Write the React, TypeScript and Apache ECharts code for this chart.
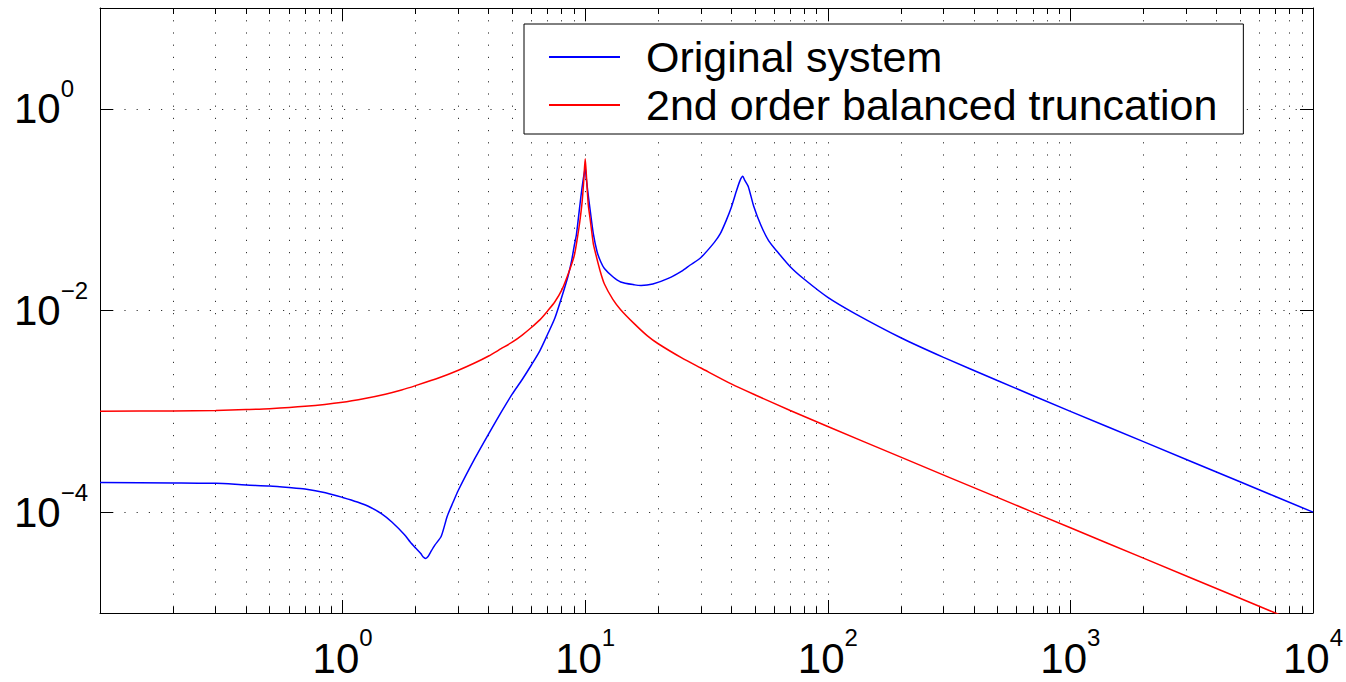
import React, { useEffect, useRef } from 'react';
import * as echarts from 'echarts';

// Frequency (rad/s) and magnitude of the original system (blue)
const blueFreq = [
  0.1, 0.2, 0.3, 0.4, 0.5, 0.6, 0.7, 0.85, 1, 1.15, 1.3, 1.45, 1.6, 1.8, 1.9, 2.0, 2.1, 2.15, 2.2, 2.25, 2.3,
  2.4, 2.55, 2.7, 2.85, 3, 3.5, 4, 4.5, 5, 5.5, 6, 6.5, 7, 7.5, 8, 8.5, 8.8, 9, 9.2, 9.4, 9.6, 9.8, 9.9, 10,
  10.1, 10.25, 10.5, 10.8, 11.2, 11.6, 12, 13, 14, 16, 17, 19, 22, 25, 27, 30, 34, 36, 38, 40, 42, 43.5, 44.6,
  45.5, 47, 49.5, 53, 57, 62, 70, 80, 100, 130, 200, 300, 500, 1000, 2000, 5000, 10000,
];
const blueMag = [
  1.97e-4, 1.95e-4, 1.93e-4, 1.86e-4, 1.82e-4, 1.76e-4, 1.7e-4, 1.56e-4, 1.4e-4, 1.26e-4, 1.12e-4, 9.6e-5,
  7.94e-5, 5.97e-5, 5.06e-5, 4.41e-5, 3.89e-5, 3.59e-5, 3.48e-5, 3.63e-5, 3.98e-5, 4.71e-5, 5.78e-5, 9.12e-5,
  1.245e-4, 1.65e-4, 3.37e-4, 5.98e-4, 9.75e-4, 1.48e-3, 2.07e-3, 2.88e-3, 3.98e-3, 5.81e-3, 8.41e-3, 0.01355,
  0.022, 0.0316, 0.0431, 0.0566, 0.0873, 0.135, 0.195, 0.226, 0.257, 0.206, 0.151, 0.0955, 0.0578, 0.038,
  0.0303, 0.0261, 0.0216, 0.0192, 0.01795, 0.0177, 0.0183, 0.0208, 0.0246, 0.0281, 0.0336, 0.0471, 0.0574,
  0.0766, 0.105, 0.153, 0.195, 0.214, 0.195, 0.17, 0.108, 0.07, 0.0494, 0.0382, 0.0272, 0.0204, 0.0135,
  0.00927, 0.00537, 0.00343, 0.00202, 0.001, 5.01e-4, 2.0e-4, 1.0e-4,
];

// Frequency (rad/s) and magnitude of the 2nd order balanced truncation (red)
const redFreq = [
  0.1, 0.2, 0.3, 0.4, 0.5, 0.7, 1, 1.25, 1.5, 1.75, 2, 2.5, 3, 3.5, 4, 4.5, 5, 5.5, 6, 6.5, 7, 7.5, 8, 8.5, 9,
  9.3, 9.5, 9.7, 9.85, 10, 10.15, 10.3, 10.5, 10.8, 11, 11.5, 12, 13, 14, 16, 18, 20, 25, 30, 40, 50, 70, 100,
  200, 500, 1000, 2000, 5000, 10000,
];
const redMag = [
  1.0e-3, 1.01e-3, 1.02e-3, 1.04e-3, 1.06e-3, 1.12e-3, 1.23e-3, 1.35e-3, 1.48e-3, 1.63e-3, 1.8e-3, 2.15e-3,
  2.556e-3, 3.015e-3, 3.54e-3, 4.18e-3, 4.85e-3, 5.71e-3, 6.78e-3, 8.07e-3, 0.0099, 0.0122, 0.0159, 0.0229,
  0.0345, 0.0537, 0.0759, 0.116, 0.184, 0.32, 0.188, 0.111, 0.078, 0.046, 0.038, 0.0251, 0.0183, 0.0129,
  0.0102, 7.33e-3, 5.64e-3, 4.68e-3, 3.39e-3, 2.69e-3, 1.87e-3, 1.46e-3, 1.02e-3, 7.07e-4, 3.51e-4, 1.4e-4,
  7.0e-5, 3.5e-5, 1.4e-5, 7.0e-6,
];

const seriesNames = ['Original system', '2nd order balanced truncation'];
const seriesColors = ['#0000ff', '#ff0000'];

// Axis ticks (exponents of ten)
const xDecades = [-1, 0, 1, 2, 3];
const xMinorMultipliers = [2, 3, 4, 5, 6, 7, 8, 9];
const yTickExponents = [-4, -2, 0];

const FONT = "'Liberation Sans', Arial, Helvetica, sans-serif";

function expLabel(e: number): string {
  const s = e < 0 ? '\u2212' + String(-e) : String(e);
  return '{b|10}{s|' + s + '}';
}

const richY = {
  b: { fontSize: 42, lineHeight: 64, fontFamily: FONT, color: '#000' },
  s: { fontSize: 24, verticalAlign: 'top', fontFamily: FONT, color: '#000' },
};
const richX = {
  b: { fontSize: 42, height: 30, lineHeight: 44, verticalAlign: 'bottom', fontFamily: FONT, color: '#000' },
  s: { fontSize: 24, height: 17, verticalAlign: 'top', fontFamily: FONT, color: '#000' },
};

const dotted = { color: '#333', width: 1, type: [1.2, 11] as any };
const black = { color: '#000', width: 1 };

export default function App() {
  const ref = useRef<HTMLDivElement>(null);

  useEffect(() => {
    if (!ref.current) return;
    const chart = echarts.init(ref.current, undefined, { renderer: 'svg' });

    const minorX: number[] = [];
    xDecades.forEach((d) => xMinorMultipliers.forEach((m) => minorX.push(Math.log10(m) + d)));

    const logX = { type: 'log', logBase: 10, min: 0.1, max: 10000 };
    const logY = { type: 'log', logBase: 10, min: 1e-5, max: 10 };
    const linX = { type: 'value', min: -1, max: 4 };
    const linY = { type: 'value', min: -5, max: 1, splitNumber: 3 };

    const option: any = {
      animation: false,
      backgroundColor: '#fff',
      grid: { left: 100, right: 33, top: 8, bottom: 69, containLabel: false, outerBoundsMode: 'none' },
      legend: {
        data: seriesNames,
        orient: 'vertical',
        left: 524,
        top: 24,
        padding: [9, 26, 5, 25],
        itemGap: 0,
        itemWidth: 71,
        itemHeight: 2,
        icon: 'rect',
        borderColor: '#000',
        borderWidth: 1,
        borderRadius: 0,
        backgroundColor: '#fff',
        selectedMode: false,
        textStyle: { fontSize: 43, lineHeight: 48, fontFamily: FONT, color: '#000', padding: [0, 0, 0, 21] },
        z: 10,
      },
      xAxis: [
        {
          ...logX,
          position: 'bottom',
          axisLine: { show: true, onZero: false, lineStyle: black },
          axisTick: { show: true, inside: true, length: 13, lineStyle: black },
          axisLabel: {
            show: true,
            margin: 16,
            showMinLabel: false,
            formatter: (v: number) => expLabel(Math.round(Math.log10(v))),
            rich: richX,
          },
          splitLine: { show: true, lineStyle: dotted },
          minorTick: { show: false },
          minorSplitLine: { show: false },
        },
        {
          ...logX,
          position: 'top',
          axisLine: { show: true, onZero: false, lineStyle: black },
          axisTick: { show: true, inside: true, length: 13, lineStyle: black },
          axisLabel: { show: false },
          splitLine: { show: false },
        },
        {
          ...linX,
          position: 'bottom',
          axisLine: { show: false, onZero: false },
          axisTick: { show: true, inside: true, length: 6, lineStyle: black, customValues: minorX },
          axisLabel: { show: false },
          splitLine: { show: true, lineStyle: dotted },
        },
        {
          ...linX,
          position: 'top',
          axisLine: { show: false, onZero: false },
          axisTick: { show: true, inside: true, length: 6, lineStyle: black, customValues: minorX },
          axisLabel: { show: false },
          splitLine: { show: false },
        },
      ],
      yAxis: [
        {
          ...logY,
          position: 'left',
          axisLine: { show: true, onZero: false, lineStyle: black },
          axisTick: { show: false },
          axisLabel: { show: false },
          splitLine: { show: false },
        },
        {
          ...logY,
          position: 'right',
          axisLine: { show: true, onZero: false, lineStyle: black },
          axisTick: { show: false },
          axisLabel: { show: false },
          splitLine: { show: false },
        },
        {
          ...linY,
          position: 'left',
          axisLine: { show: false, onZero: false },
          axisTick: { show: true, inside: true, length: 13, lineStyle: black, customValues: yTickExponents },
          axisLabel: {
            show: true,
            customValues: yTickExponents,
            margin: 86,
            align: 'left',
            formatter: (v: number) => expLabel(Math.round(v)),
            rich: richY,
          },
          splitLine: { show: true, lineStyle: dotted },
        },
        {
          ...linY,
          position: 'right',
          axisLine: { show: false, onZero: false },
          axisTick: { show: true, inside: true, length: 13, lineStyle: black, customValues: yTickExponents },
          axisLabel: { show: false },
          splitLine: { show: false },
        },
      ],
      series: [
        {
          name: seriesNames[0],
          type: 'line',
          xAxisIndex: 0,
          yAxisIndex: 0,
          data: blueFreq.map((f, i) => [f, blueMag[i]]),
          symbol: 'none',
          showSymbol: false,
          smooth: 0.25,
          clip: true,
          lineStyle: { color: seriesColors[0], width: 1.5 },
          itemStyle: { color: seriesColors[0] },
          z: 3,
        },
        {
          name: seriesNames[1],
          type: 'line',
          xAxisIndex: 0,
          yAxisIndex: 0,
          data: redFreq.map((f, i) => [f, redMag[i]]),
          symbol: 'none',
          showSymbol: false,
          smooth: 0.25,
          clip: true,
          lineStyle: { color: seriesColors[1], width: 1.5 },
          itemStyle: { color: seriesColors[1] },
          z: 4,
        },
      ],
    };

    chart.setOption(option);
    return () => chart.dispose();
  }, []);

  return (
    <div
      ref={ref}
      style={{ position: 'absolute', left: 0, top: 0, width: 1346, height: 682, background: '#fff' }}
    />
  );
}
